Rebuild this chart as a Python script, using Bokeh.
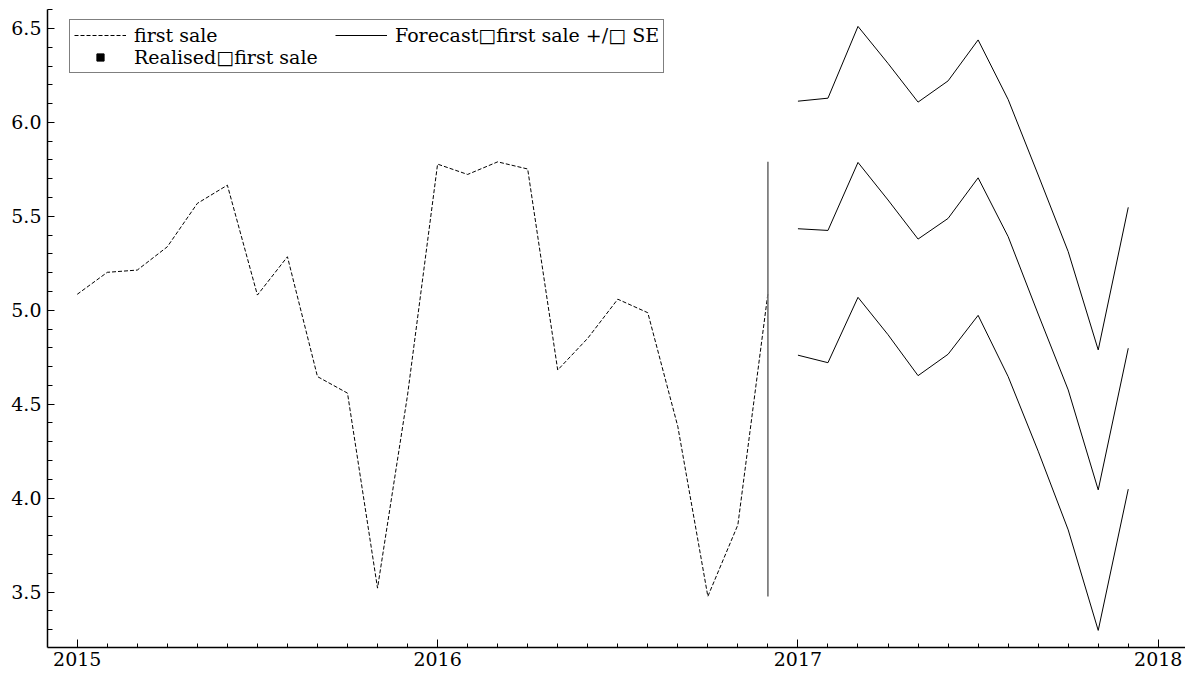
from bokeh.plotting import figure
from bokeh.models import (Range1d, FixedTicker, NumeralTickFormatter, Legend, LegendItem)
from bokeh.embed import file_html
from bokeh.resources import INLINE

# ---------------- data ----------------
months_hist = ["2015-01", "2015-02", "2015-03", "2015-04", "2015-05", "2015-06",
               "2015-07", "2015-08", "2015-09", "2015-10", "2015-11", "2015-12",
               "2016-01", "2016-02", "2016-03", "2016-04", "2016-05", "2016-06",
               "2016-07", "2016-08", "2016-09", "2016-10", "2016-11", "2016-12"]
first_sale = [5.085, 5.202, 5.214, 5.338, 5.569, 5.666, 5.081, 5.285, 4.647, 4.559, 3.521, 4.549,
              5.778, 5.723, 5.790, 5.752, 4.682, 4.851, 5.059, 4.987, 4.381, 3.477, 3.858, 5.090]

months_fc = ["2017-01", "2017-02", "2017-03", "2017-04", "2017-05", "2017-06",
             "2017-07", "2017-08", "2017-09", "2017-10", "2017-11", "2017-12"]
fc_upper = [6.113, 6.129, 6.511, 6.314, 6.108, 6.221, 6.439, 6.122, 5.720, 5.312, 4.789, 5.548]
fc_mid = [5.434, 5.425, 5.787, 5.587, 5.379, 5.489, 5.705, 5.392, 4.980, 4.576, 4.044, 4.798]
fc_lower = [4.761, 4.721, 5.069, 4.870, 4.652, 4.766, 4.973, 4.647, 4.250, 3.831, 3.296, 4.048]

# realised values in the forecast window: none available
realised_x = [float("nan")]
realised_y = [float("nan")]

year_ticks = [2015, 2016, 2017, 2018]
y_ticks = [3.5, 4.0, 4.5, 5.0, 5.5, 6.0, 6.5]

label_hist = "first sale"
label_fc = "Forecast\u25a1first sale +/\u25a1 SE"
label_real = "Realised\u25a1first sale"


def dec_year(m):
    y, mo = m.split("-")
    return int(y) + (int(mo) - 1) / 12.0


x_hist = [dec_year(m) for m in months_hist]
x_fc = [dec_year(m) for m in months_fc]

FONT = "DejaVu Serif"
FRAME_H = 638

p = figure(frame_width=1138, frame_height=FRAME_H,
           output_backend="svg", toolbar_location=None,
           x_range=Range1d(2015 - 0.99 / 12, 2018.0755),
           y_range=Range1d(3.205, 6.601),
           min_border_left=47, min_border_right=0, min_border_top=9, min_border_bottom=0)
p.outline_line_color = None
p.grid.visible = False
p.background_fill_color = "white"
p.border_fill_color = "white"

# history (dashed)
r_hist = p.line(x_hist, first_sale, line_color="black", line_width=1, line_dash="4 2")

# vertical marker at forecast origin spanning the data range
p.segment(x0=[x_hist[-1]], y0=[min(first_sale)], x1=[x_hist[-1]], y1=[max(first_sale)],
          line_color="#707070", line_width=1.6)

# forecast +/- SE
r_up = p.line(x_fc, fc_upper, line_color="black", line_width=1)
r_mid = p.line(x_fc, fc_mid, line_color="black", line_width=1)
r_lo = p.line(x_fc, fc_lower, line_color="black", line_width=1)

# realised
r_real = p.scatter(x=realised_x, y=realised_y, marker="square", size=6, color="black")

# axes
xa = p.xaxis[0]
xa.ticker = FixedTicker(ticks=year_ticks,
                        minor_ticks=[2015 + k / 12.0 for k in range(-1, 38)])
ya = p.yaxis[0]
ya.ticker = FixedTicker(ticks=y_ticks,
                        minor_ticks=[round(3.2 + 0.1 * k, 2) for k in range(0, 35)])
ya.formatter = NumeralTickFormatter(format="0.0")

for ax in (xa, ya):
    ax.axis_line_color = "black"
    ax.axis_line_width = 1.5
    ax.major_tick_line_color = "black"
    ax.minor_tick_line_color = "black"
    ax.major_tick_out = 0
    ax.minor_tick_out = 0
    ax.major_label_text_font = FONT
    ax.major_label_text_font_size = "19px"
    ax.major_label_text_color = "black"
xa.major_tick_in = 8
xa.minor_tick_in = 4
ya.major_tick_in = 7
ya.minor_tick_in = 5
xa.major_label_standoff = 4
ya.major_label_standoff = 6

legend = Legend(items=[LegendItem(label=label_hist, renderers=[r_hist]),
                       LegendItem(label=label_fc, renderers=[r_up]),
                       LegendItem(label=label_real, renderers=[r_real])],
                orientation="horizontal", ncols=2,
                location=(22, FRAME_H - 64))
legend.label_text_font = FONT
legend.label_text_font_size = "19px"
legend.label_text_color = "black"
legend.label_height = 18
legend.glyph_height = 18
legend.glyph_width = 52
legend.label_standoff = 8
legend.label_width = 201
legend.spacing = 0
legend.padding = 4
legend.border_line_color = "black"
legend.border_line_width = 1
legend.background_fill_alpha = 1
p.add_layout(legend)

open("out.html", "w").write(file_html(p, INLINE))
